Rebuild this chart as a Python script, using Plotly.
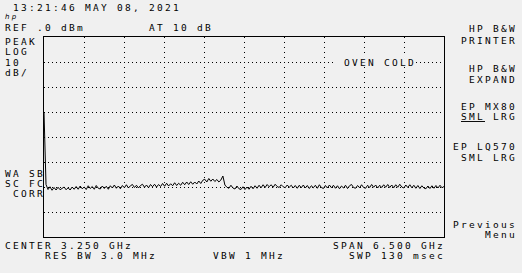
import numpy as np
import plotly.graph_objects as go

# ---------------- data ----------------
START_GHZ = 0.0
STOP_GHZ = 6.5
REF_DBM = 0.0
DB_PER_DIV = 10

trace_dbm = [
    -30.0, -59.0, -61.0, -59.9, -61.3, -60.2, -61.2, -60.1, -61.1, -60.4,
    -60.0, -61.1, -60.3, -61.2, -60.0, -60.9, -59.8, -60.9, -59.6, -60.7,
    -60.0, -61.0, -59.5, -60.6, -59.8, -60.9, -59.4, -60.5, -60.8, -59.6,
    -60.6, -59.7, -60.9, -59.5, -60.4, -59.2, -60.5, -59.6, -60.7, -59.4,
    -60.3, -59.1, -60.4, -59.5, -59.0, -60.2, -59.3, -60.4, -59.4, -58.9,
    -60.1, -59.2, -60.3, -59.0, -59.9, -58.9, -60.0, -59.0, -59.8, -58.6,
    -59.7, -58.5, -59.6, -58.7, -59.5, -58.3, -59.4, -58.5, -59.3, -58.1,
    -59.1, -58.0, -59.0, -57.9, -58.9, -58.0, -58.8, -57.6, -58.6, -57.3,
    -56.9, -58.0, -56.6, -57.7, -56.8, -57.8, -57.0, -58.0, -57.2, -55.6,
    -59.2, -60.1, -60.5, -59.3, -60.4, -60.8, -59.6, -60.7, -61.0, -59.9,
    -61.0, -60.0, -60.9, -59.7, -60.7, -59.5, -60.5, -59.3, -60.3, -59.1,
    -60.2, -59.0, -59.9, -59.1, -60.1, -58.9, -59.8, -60.2, -59.1, -59.9,
    -60.3, -59.2, -60.1, -59.3, -60.4, -59.4, -60.5, -59.3, -60.3, -59.2,
    -60.4, -59.4, -60.6, -59.5, -60.3, -59.3, -60.5, -59.1, -60.2, -60.6,
    -59.4, -60.4, -59.2, -60.3, -59.3, -60.5, -59.5, -60.7, -59.6, -60.4,
    -59.3, -60.6, -59.5, -59.0, -60.2, -60.5, -59.4, -60.3, -59.1, -60.2,
    -60.5, -59.3, -60.2, -59.0, -60.1, -59.2, -60.4, -59.3, -60.2, -59.1,
    -60.1, -59.0, -60.2, -59.2, -60.3, -59.1, -60.1, -58.9, -60.0, -60.4,
    -59.2, -60.2, -59.1, -60.3, -59.3, -60.5, -59.4, -60.6, -59.5, -60.4,
    -60.7, -59.6, -60.6, -59.5, -60.5, -59.4, -60.4, -59.3, -60.3, -59.8,
]

header_lines = ["13:21:46 MAY 08, 2021"]
ref_label = "REF .0 dBm"
atten_label = "AT 10 dB"
left_labels = ["PEAK", "LOG", "10", "dB/"]
corr_labels = ["WA SB", "SC FC", "CORR"]
bottom_left = ["CENTER 3.250 GHz", "RES BW 3.0 MHz"]
bottom_mid = "VBW 1 MHz"
bottom_right = ["SPAN 6.500 GHz", "SWP 130 msec"]
softkeys = ["HP B&W", "PRINTER", "HP B&W", "EXPAND", "EP MX80", "<u>SML</u> LRG",
            "EP LQ570", "SML LRG", "Previous", "Menu"]
status_msg = "OVEN COLD"

# ---------------- figure ----------------
W, H = 522, 273
L, R, T, B = 44, 78, 37, 36
BG = "#f0f0f0"
FONT = dict(family="DejaVu Sans Mono, monospace", size=9.5, color="#000000")

freqs = np.linspace(START_GHZ, STOP_GHZ, len(trace_dbm))

fig = go.Figure()
fig.add_trace(go.Scatter(x=freqs, y=trace_dbm, mode="lines",
                         line=dict(color="#000000", width=1), hoverinfo="skip"))

def px_x(px):
    return (px - L) / (W - L - R)

def px_y(py):
    return (H - B - py) / (H - T - B)

def col(c):
    return 5 + 8 * c

annos = []
def text(s, x, y, **kw):
    d = dict(text=s, x=px_x(x), y=px_y(y), xref="paper", yref="paper",
             xanchor="left", yanchor="middle", showarrow=False, font=FONT,
             borderpad=0, borderwidth=0)
    d.update(kw)
    annos.append(d)

text(header_lines[0], col(1), 7)
text("<i>hp</i>", 5, 17, font=dict(family="DejaVu Sans", size=7, color="#000000"))
text(ref_label, col(0), 27.5)
text(atten_label, col(18), 27.5)
for s, y in zip(left_labels, [41, 51.5, 62, 72.5]):
    text(s, col(0), y)
for s, c, y in zip(corr_labels, [0, 0, 1], [173, 183.5, 193]):
    text(s, col(c), y)
text(bottom_left[0], col(0), 245)
text(bottom_left[1], col(5), 255)
text(bottom_mid, col(26), 255)
text(bottom_right[0], col(41), 245)
text(bottom_right[1], col(43), 255)
for s, c, y in zip(softkeys, [58, 57, 58, 58, 57, 57, 56, 57, 56, 60],
                   [29, 40, 68, 79.5, 106, 116, 146, 157, 224, 234]):
    text(s, col(c), y)
text(" " + status_msg, 336, 62, bgcolor=BG, width=80, align="left", height=10)

fig.update_layout(
    width=W, height=H, margin=dict(l=L, r=R, t=T, b=B, pad=0),
    paper_bgcolor=BG, plot_bgcolor=BG, showlegend=False,
    annotations=annos,
)
fig.update_xaxes(range=[START_GHZ, STOP_GHZ], dtick=(STOP_GHZ - START_GHZ) / 10, tick0=START_GHZ,
                 showticklabels=False, ticks="", showgrid=True, gridcolor="#000000",
                 gridwidth=1, griddash="1px,4px", zeroline=False,
                 showline=True, linecolor="#000000", linewidth=1, mirror=True)
fig.update_yaxes(range=[REF_DBM - 8 * DB_PER_DIV, REF_DBM], dtick=DB_PER_DIV,
                 showticklabels=False, ticks="", showgrid=True, gridcolor="#000000",
                 gridwidth=1, griddash="1px,3px", zeroline=False,
                 showline=True, linecolor="#000000", linewidth=1, mirror=True)

# the analyzer's character cell is 8 px wide: widen glyph spacing to match,
# keeping each label's left edge where Plotly put it
post = ("var gd = document.getElementById('{plot_id}');"
        "gd.querySelectorAll('.annotation-text').forEach(function(e){"
        "var b0 = e.getBBox().x;"
        "e.style.letterSpacing='2.28px';"
        "var b1 = e.getBBox().x;"
        "e.setAttribute('transform','translate(' + (b0 - b1) + ',0)');"
        "});")
fig.write_html("out.html", post_script=post)
